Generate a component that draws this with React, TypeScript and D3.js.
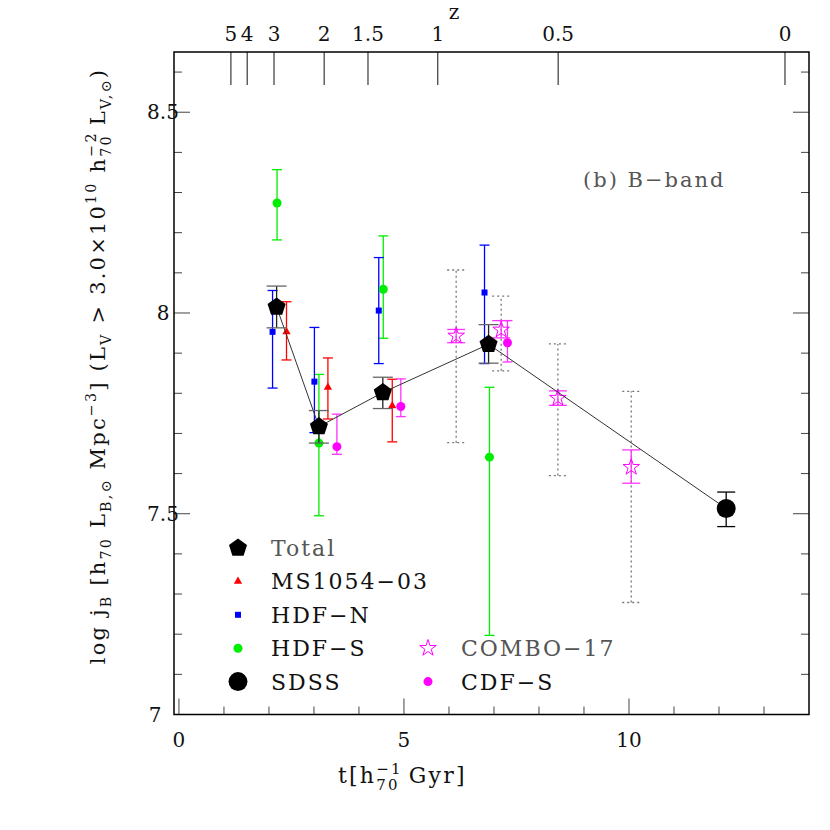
import * as React from 'react';
import * as d3 from 'd3';

// data: t [Gyr], log j_B, error range
const total = [
  {t: 2.17, v: 8.015, lo: 7.963, hi: 8.067},
  {t: 3.11, v: 7.717, lo: 7.676, hi: 7.757},
  {t: 4.53, v: 7.802, lo: 7.762, hi: 7.840},
  {t: 6.88, v: 7.922, lo: 7.875, hi: 7.971},
];
const sdss = [{t: 12.16, v: 7.513, lo: 7.468, hi: 7.554}];
const ms1054 = [
  {t: 2.39, v: 7.953, lo: 7.883, hi: 8.028},
  {t: 3.31, v: 7.815, lo: 7.736, hi: 7.888},
  {t: 4.74, v: 7.769, lo: 7.679, hi: 7.835},
];
const hdfn = [
  {t: 2.08, v: 7.953, lo: 7.813, hi: 8.056},
  {t: 3.01, v: 7.829, lo: 7.702, hi: 7.964},
  {t: 4.44, v: 8.006, lo: 7.874, hi: 8.138},
  {t: 6.79, v: 8.051, lo: 7.874, hi: 8.169},
];
const hdfs = [
  {t: 2.18, v: 8.274, lo: 8.182, hi: 8.357},
  {t: 3.11, v: 7.676, lo: 7.495, hi: 7.847},
  {t: 4.54, v: 8.059, lo: 7.937, hi: 8.192},
  {t: 6.90, v: 7.641, lo: 7.197, hi: 7.815},
];
const cdfs = [
  {t: 3.51, v: 7.667, lo: 7.648, hi: 7.748},
  {t: 4.93, v: 7.767, lo: 7.742, hi: 7.836},
  {t: 7.30, v: 7.926, lo: 7.878, hi: 7.981},
];
const combo = [
  {t: 6.16, v: 7.943, lo: 7.926, hi: 7.959, sysLo: 7.677, sysHi: 8.107},
  {t: 7.16, v: 7.958, lo: 7.938, hi: 7.981, sysLo: 7.856, sysHi: 8.042},
  {t: 8.42, v: 7.788, lo: 7.770, hi: 7.806, sysLo: 7.595, sysHi: 7.923},
  {t: 10.05, v: 7.616, lo: 7.576, hi: 7.659, sysLo: 7.279, sysHi: 7.805},
];

const yTicks = [7, 7.5, 8, 8.5];
const xTicks = [0, 5, 10];
const zTicks = [5, 4, 3, 2, 1.5, 1, 0.5, 0];

// age of a flat universe (H0=70, Om=0.3) at redshift z, in Gyr
const ageAt = (z: number) => {
  const om = 0.3, ol = 0.7, hubbleTime = 13.968;
  return (2 / 3) * hubbleTime / Math.sqrt(ol) * Math.asinh(Math.sqrt(ol / om) * Math.pow(1 + z, -1.5));
};

const FONT = '"DejaVu Serif", serif';

function App() {
  const ref = React.useRef<SVGSVGElement>(null);

  React.useEffect(() => {
    const svg = d3.select(ref.current);
    svg.selectAll('*').remove();

    const x = d3.scaleLinear().domain([-0.11, 14]).range([174, 809]);
    const y = d3.scaleLinear().domain([7, 8.65]).range([714.5, 52]);
    const [x0, x1] = x.range();
    const [y0, y1] = y.range();

    const g = svg.append('g');

    // minor/major ticks
    const ticks = g.append('g').attr('stroke', '#444').attr('stroke-width', 1);
    d3.range(70, 87).map(i => i / 10).forEach(v => {
      const len = Math.abs(v * 2 - Math.round(v * 2)) < 1e-6 ? 16 : 8;
      ticks.append('line').attr('x1', x0).attr('x2', x0 + len).attr('y1', y(v)).attr('y2', y(v));
      ticks.append('line').attr('x1', x1).attr('x2', x1 - len).attr('y1', y(v)).attr('y2', y(v));
    });
    d3.range(0, 14).forEach(t => {
      const len = t % 5 === 0 ? 16 : 8;
      ticks.append('line').attr('x1', x(t)).attr('x2', x(t)).attr('y1', y0).attr('y2', y0 - len);
    });
    zTicks.forEach(z => {
      ticks.append('line').attr('stroke', '#111')
        .attr('x1', x(ageAt(z))).attr('x2', x(ageAt(z))).attr('y1', y1).attr('y2', y1 + 33);
    });

    // frame
    g.append('rect').attr('x', x0).attr('y', y1).attr('width', x1 - x0).attr('height', y0 - y1)
      .attr('fill', 'none').attr('stroke', '#000').attr('stroke-width', 1.5);

    const labels = g.append('g').attr('font-family', FONT).attr('font-size', 20).attr('fill', '#111');
    yTicks.forEach(v => {
      labels.append('text').attr('x', v === 7 ? 155 : 163).attr('y', y(v) + 7)
        .attr('text-anchor', 'middle').text(String(v));
    });
    xTicks.forEach(t => {
      labels.append('text').attr('x', x(t)).attr('y', 747).attr('text-anchor', 'middle').text(String(t));
    });
    zTicks.forEach(z => {
      labels.append('text').attr('x', x(ageAt(z))).attr('y', 41).attr('text-anchor', 'middle').text(String(z));
    });
    labels.append('text').attr('x', 454).attr('y', 19).attr('text-anchor', 'middle').text('z');

    // rich text helper: parts with sub / sup / stacked sup+sub
    type Part = {s: string, k?: 'sub' | 'sup' | 'stack', s2?: string};
    const rich = (el: d3.Selection<SVGTextElement, unknown, null, undefined>, parts: Part[], size: number) => {
      const small = size * 0.68;
      let off = 0;
      parts.forEach(p => {
        if (!p.k) {
          el.append('tspan').attr('dy', -off).text(p.s);
          off = 0;
        } else if (p.k === 'sub' || p.k === 'sup') {
          const target = p.k === 'sub' ? size * 0.3 : -size * 0.42;
          el.append('tspan').attr('font-size', small).attr('dy', target - off).text(p.s);
          off = target;
        } else {
          const up = -size * 0.42, down = size * 0.3;
          const ts = el.append('tspan').attr('font-size', small).attr('dy', up - off).text(p.s);
          const w = (ts.node() as SVGTextContentElement).getComputedTextLength();
          const ts2 = el.append('tspan').attr('font-size', small).attr('dx', -w).attr('dy', down - up).text(p.s2 || '');
          const w2 = (ts2.node() as SVGTextContentElement).getComputedTextLength();
          if (w > w2) ts2.attr('dx', -w);
          off = down;
        }
      });
      if (off !== 0) el.append('tspan').attr('dy', -off).text('\u200b');
    };

    const xl = g.append('text').attr('font-family', FONT).attr('font-size', 22).attr('fill', '#111')
      .attr('letter-spacing', 2.2).attr('x', 338).attr('y', 783);
    rich(xl, [{s: 't[h'}, {s: '\u22121', k: 'stack', s2: '70'}, {s: '  Gyr]'}], 22);

    const yl = g.append('text').attr('font-family', FONT).attr('font-size', 21).attr('fill', '#111')
      .attr('letter-spacing', 2.2).attr('text-anchor', 'middle')
      .attr('transform', 'translate(105,366) rotate(-90)');
    rich(yl, [
      {s: 'log j'}, {s: 'B', k: 'sub'}, {s: ' [h'}, {s: '70', k: 'sub'}, {s: ' L'}, {s: 'B,\u2299', k: 'sub'},
      {s: ' Mpc'}, {s: '\u22123', k: 'sup'}, {s: '] (L'}, {s: 'V', k: 'sub'}, {s: ' > 3.0\u00d710'},
      {s: '10', k: 'sup'}, {s: ' h'}, {s: '\u22122', k: 'stack', s2: '70'}, {s: ' L'}, {s: 'V,\u2299', k: 'sub'}, {s: ')'},
    ], 21);

    g.append('text').attr('font-family', FONT).attr('font-size', 21).attr('fill', '#555')
      .attr('letter-spacing', 2).attr('x', 583).attr('y', 187).text('(b) B\u2212band');

    // error bar helper
    type Pt = {t: number, v: number, lo: number, hi: number};
    const errBars = (data: Pt[], color: string, cap: number, capColor?: string, dash?: string, lo = 'lo', hi = 'hi') => {
      const eg = g.append('g').attr('stroke', color).attr('stroke-width', 1.3).attr('fill', 'none');
      if (dash) eg.attr('stroke-dasharray', dash);
      data.forEach((d: any) => {
        eg.append('line').attr('x1', x(d.t)).attr('x2', x(d.t)).attr('y1', y(d[lo])).attr('y2', y(d[hi]));
        [d[lo], d[hi]].forEach(e => {
          eg.append('line').attr('stroke', capColor || color)
            .attr('x1', x(d.t) - cap).attr('x2', x(d.t) + cap).attr('y1', y(e)).attr('y2', y(e));
        });
      });
    };

    const pentagon = (r: number) => {
      const pts = d3.range(5).map(i => {
        const a = -Math.PI / 2 + i * 2 * Math.PI / 5;
        return [r * Math.cos(a), r * Math.sin(a)] as [number, number];
      });
      return d3.line()(pts) + 'Z';
    };
    const star = d3.symbol(d3.symbolStar, 85)();
    const tri = d3.symbol(d3.symbolTriangle, 30)();

    // COMBO-17 systematic (dotted) bars
    errBars(combo, '#777', 9, '#777', '2,3', 'sysLo', 'sysHi');

    errBars(hdfs, '#00ee00', 5);
    errBars(hdfn, '#0000ff', 5);
    errBars(ms1054, '#ff0000', 5);
    errBars(cdfs, '#ff33ff', 5);
    errBars(combo, '#ff33ff', 9);

    g.selectAll('.hdfs').data(hdfs).enter().append('circle')
      .attr('cx', d => x(d.t)).attr('cy', d => y(d.v)).attr('r', 4.5).attr('fill', '#00ee00');
    g.selectAll('.hdfn').data(hdfn).enter().append('rect')
      .attr('x', d => x(d.t) - 3).attr('y', d => y(d.v) - 3).attr('width', 6).attr('height', 6).attr('fill', '#0000ff');
    g.selectAll('.ms').data(ms1054).enter().append('path').attr('d', tri)
      .attr('transform', d => `translate(${x(d.t)},${y(d.v)})`).attr('fill', '#ff0000');
    g.selectAll('.cdfs').data(cdfs).enter().append('circle')
      .attr('cx', d => x(d.t)).attr('cy', d => y(d.v)).attr('r', 4.5).attr('fill', '#ff00ff');
    g.selectAll('.combo').data(combo).enter().append('path').attr('d', star)
      .attr('transform', d => `translate(${x(d.t)},${y(d.v)})`)
      .attr('fill', 'none').attr('stroke', '#ff00ff').attr('stroke-width', 1);

    // total line and points
    const line = d3.line<Pt>().x(d => x(d.t)).y(d => y(d.v));
    g.append('path').attr('d', line([...total, ...sdss])).attr('fill', 'none').attr('stroke', '#333').attr('stroke-width', 1);
    errBars(total, '#222', 10, '#666');
    errBars(sdss, '#000', 9);
    g.selectAll('.total').data(total).enter().append('path').attr('d', pentagon(9.5))
      .attr('transform', d => `translate(${x(d.t)},${y(d.v)})`).attr('fill', '#000');
    g.selectAll('.sdss').data(sdss).enter().append('circle')
      .attr('cx', d => x(d.t)).attr('cy', d => y(d.v)).attr('r', 9.5).attr('fill', '#000');

    // legend
    const leg = g.append('g').attr('font-family', FONT).attr('font-size', 22).attr('letter-spacing', 2);
    const items = [
      {label: 'Total', col: 0, row: 0, tc: '#555', draw: (s: any) => s.append('path').attr('d', pentagon(9.5)).attr('fill', '#000')},
      {label: 'MS1054\u221203', col: 0, row: 1, tc: '#111', draw: (s: any) => s.append('path').attr('d', tri).attr('fill', '#ff0000')},
      {label: 'HDF\u2212N', col: 0, row: 2, tc: '#111', draw: (s: any) => s.append('rect').attr('x', -3).attr('y', -3).attr('width', 6).attr('height', 6).attr('fill', '#0000ff')},
      {label: 'HDF\u2212S', col: 0, row: 3, tc: '#111', draw: (s: any) => s.append('circle').attr('r', 4.5).attr('fill', '#00ee00')},
      {label: 'SDSS', col: 0, row: 4, tc: '#111', draw: (s: any) => s.append('circle').attr('r', 9.5).attr('fill', '#000')},
      {label: 'COMBO\u221217', col: 1, row: 3, tc: '#555', draw: (s: any) => s.append('path').attr('d', star).attr('fill', 'none').attr('stroke', '#ff00ff')},
      {label: 'CDF\u2212S', col: 1, row: 4, tc: '#111', draw: (s: any) => s.append('circle').attr('r', 4.5).attr('fill', '#ff00ff')},
    ];
    items.forEach(it => {
      const cx = it.col === 0 ? 238 : 428;
      const cy = 548 + it.row * 33.4;
      it.draw(leg.append('g').attr('transform', `translate(${cx},${cy})`));
      leg.append('text').attr('x', cx + 33).attr('y', cy + 8).attr('fill', it.tc).text(it.label);
    });
  }, []);

  return (
    <svg ref={ref} width={830} height={830}
      style={{position: 'absolute', left: 0, top: 0, background: '#fff'}}></svg>
  );
}

export default App;
